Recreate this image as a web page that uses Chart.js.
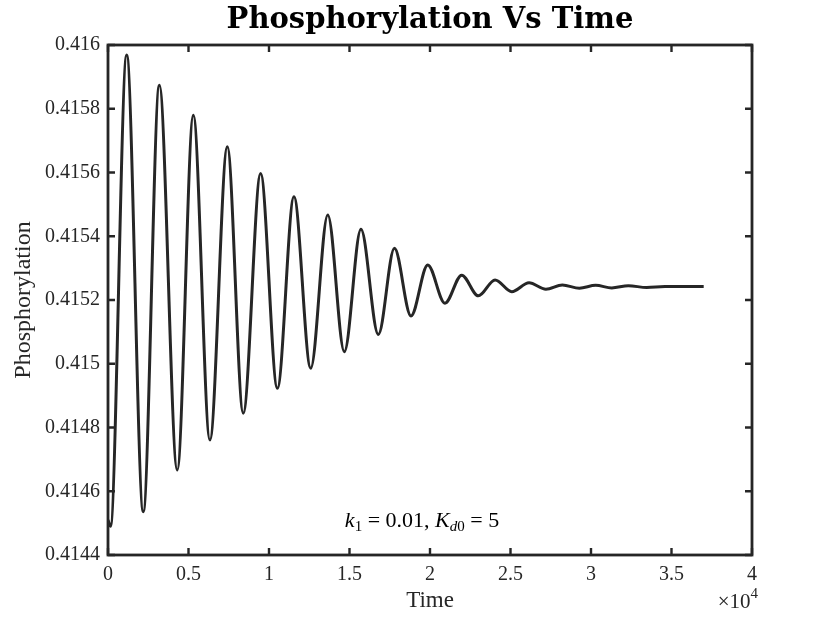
<!DOCTYPE html>
<html>
<head>
<meta charset="utf-8">
<script src="https://cdn.jsdelivr.net/npm/chart.js@4.4.1/dist/chart.umd.min.js"></script>
<style>
  html, body { margin: 0; padding: 0; background: #ffffff; }
  #wrap { width: 830px; height: 623px; position: relative; }
</style>
</head>
<body>
<div id="wrap"><canvas id="c" width="830" height="623"></canvas></div>
<script>
// ---- data ----
const time = [0, 150, 1160, 2190, 3190, 4300, 5300, 6330, 7410, 8400, 9480, 10520,
  11550, 12590, 13650, 14680, 15710, 16790, 17790, 18820, 19860, 20930, 21970, 23000,
  24040, 25080, 26150, 27200, 28220, 29280, 30290, 31290, 32320, 33460, 34600, 35700, 37000];
const phosphorylation = [0.41451, 0.41449, 0.415969, 0.414536, 0.415874, 0.414667,
  0.415780, 0.414761, 0.415681, 0.414845, 0.415597, 0.414923, 0.415524, 0.414986,
  0.415467, 0.415038, 0.415422, 0.415092, 0.415362, 0.415150, 0.415310, 0.415190,
  0.415278, 0.415213, 0.415263, 0.415226, 0.415254, 0.415234, 0.415247, 0.415237,
  0.415246, 0.415238, 0.415245, 0.415239, 0.415242, 0.415242, 0.415242];
const xTickValues = [0, 5000, 10000, 15000, 20000, 25000, 30000, 35000, 40000];
const xTickLabels = ['0', '0.5', '1', '1.5', '2', '2.5', '3', '3.5', '4'];
const yTickValues = [0.4144, 0.4146, 0.4148, 0.415, 0.4152, 0.4154, 0.4156, 0.4158, 0.416];
const yTickLabels = ['0.4144', '0.4146', '0.4148', '0.415', '0.4152', '0.4154', '0.4156', '0.4158', '0.416'];
const titleText = 'Phosphorylation Vs Time';
const xTitle = 'Time';
const yTitle = 'Phosphorylation';

const points = time.map((t, i) => ({ x: t, y: phosphorylation[i] }));
const INK = '#262626';
const SERIF = '"Liberation Serif", "Times New Roman", serif';

const boxPlugin = {
  id: 'box',
  afterDraw(chart) {
    const { ctx, chartArea: a, scales } = chart;
    const xs = scales.x, ys = scales.y;
    ctx.save();
    ctx.strokeStyle = INK;
    ctx.lineWidth = 2.4;
    const tl = 7;
    ctx.beginPath();
    xTickValues.forEach(v => {
      const px = xs.getPixelForValue(v);
      ctx.moveTo(px, a.bottom); ctx.lineTo(px, a.bottom - tl);
      ctx.moveTo(px, a.top); ctx.lineTo(px, a.top + tl);
    });
    yTickValues.forEach(v => {
      const py = ys.getPixelForValue(v);
      ctx.moveTo(a.left, py); ctx.lineTo(a.left + tl, py);
      ctx.moveTo(a.right, py); ctx.lineTo(a.right - tl, py);
    });
    ctx.stroke();
    ctx.lineWidth = 2.8;
    ctx.strokeRect(a.left, a.top, a.right - a.left, a.bottom - a.top);

    // annotation  k_1 = 0.01, K_d0 = 5
    const big = 22, small = 15;
    const parts = [
      { t: 'k', f: 'italic ' + big + 'px ' + SERIF, dy: 0 },
      { t: '1', f: small + 'px ' + SERIF, dy: 4 },
      { t: ' = 0.01, ', f: big + 'px ' + SERIF, dy: 0 },
      { t: 'K', f: 'italic ' + big + 'px ' + SERIF, dy: 0 },
      { t: 'd', f: 'italic ' + small + 'px ' + SERIF, dy: 4 },
      { t: '0', f: small + 'px ' + SERIF, dy: 4 },
      { t: ' = 5', f: big + 'px ' + SERIF, dy: 0 }
    ];
    let total = 0;
    parts.forEach(p => { ctx.font = p.f; p.w = ctx.measureText(p.t).width; total += p.w; });
    let x = (a.left + a.right) / 2 - 8 - total / 2;
    const base = a.bottom - 28;
    ctx.fillStyle = '#000000';
    ctx.textBaseline = 'alphabetic';
    ctx.textAlign = 'left';
    parts.forEach(p => { ctx.font = p.f; ctx.fillText(p.t, x, base + p.dy); x += p.w; });

    // exponent label  x10^4
    const eb = 21, es = 15;
    ctx.fillStyle = INK;
    ctx.font = eb + 'px ' + SERIF;
    const m = '\u00D710';
    const mw = ctx.measureText(m).width;
    ctx.font = es + 'px ' + SERIF;
    const ew = ctx.measureText('4').width;
    const ex = a.right + 6 - mw - ew;
    ctx.font = eb + 'px ' + SERIF;
    ctx.fillText(m, ex, 608);
    ctx.font = es + 'px ' + SERIF;
    ctx.fillText('4', ex + mw, 598);
    ctx.restore();
  }
};

new Chart(document.getElementById('c'), {
  type: 'line',
  data: {
    datasets: [{
      data: points,
      borderColor: INK,
      borderWidth: 3,
      pointRadius: 0,
      fill: false,
      cubicInterpolationMode: 'monotone'
    }]
  },
  options: {
    responsive: false,
    animation: false,
    devicePixelRatio: 1,
    layout: { padding: { left: 0, right: 78, top: 0, bottom: 0 } },
    plugins: {
      legend: { display: false },
      tooltip: { enabled: false },
      title: {
        display: true,
        text: titleText,
        fullSize: false,
        color: '#000000',
        font: { family: '"DejaVu Serif", serif', size: 29, weight: 'bold', lineHeight: 1.2 },
        padding: { top: 3, bottom: 7.2 }
      }
    },
    scales: {
      x: {
        type: 'linear',
        min: 0, max: 40000,
        afterFit(s) { s.height = 68; },
        afterBuildTicks(s) { s.ticks = xTickValues.map(v => ({ value: v })); },
        grid: { display: false, drawTicks: false },
        border: { display: false },
        ticks: {
          color: INK,
          padding: 8,
          maxRotation: 0,
          autoSkip: false,
          font: { family: SERIF, size: 20 },
          callback: (v) => { const i = xTickValues.indexOf(v); return i >= 0 ? xTickLabels[i] : ''; }
        },
        title: {
          display: true, text: xTitle, color: INK,
          font: { family: SERIF, size: 23, lineHeight: 1.2 },
          padding: { top: 0, bottom: 8.2 }
        }
      },
      y: {
        type: 'linear',
        min: 0.4144, max: 0.416,
        afterFit(s) { s.width = 108; },
        afterBuildTicks(s) { s.ticks = yTickValues.map(v => ({ value: v })); },
        grid: { display: false, drawTicks: false },
        border: { display: false },
        ticks: {
          color: INK,
          padding: 8,
          autoSkip: false,
          font: { family: SERIF, size: 20 },
          callback: (v) => { const i = yTickValues.findIndex(t => Math.abs(t - v) < 1e-9); return i >= 0 ? yTickLabels[i] : ''; }
        },
        title: {
          display: true, text: yTitle, color: INK,
          font: { family: SERIF, size: 24, lineHeight: 1.2 },
          padding: { top: 9.6, bottom: 0 }
        }
      }
    }
  },
  plugins: [boxPlugin]
});
</script>
</body>
</html>
